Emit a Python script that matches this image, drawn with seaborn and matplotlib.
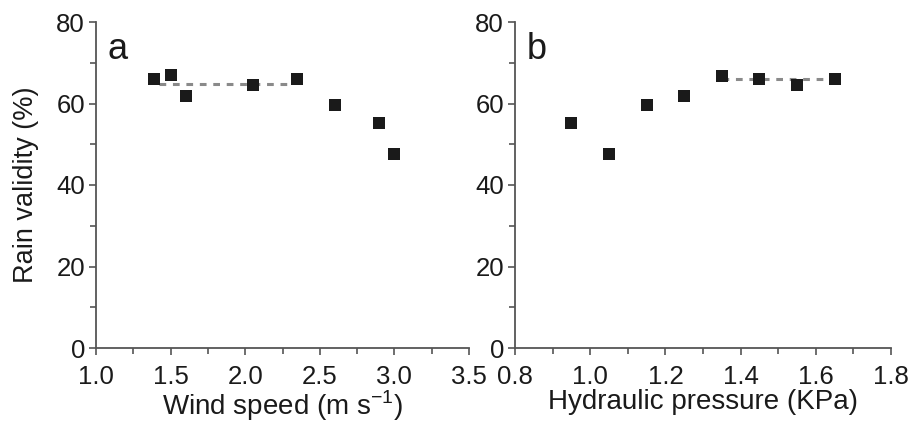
import matplotlib
matplotlib.use("Agg")
import matplotlib.pyplot as plt
import seaborn as sns
import pandas as pd
from matplotlib.ticker import MultipleLocator

sns.set_theme(style="ticks")
plt.rcParams['font.family'] = ['Liberation Sans', 'DejaVu Sans']

wind_speed = [1.39, 1.50, 1.60, 2.05, 2.35, 2.60, 2.90, 3.00]
validity_a = [66.0, 67.0, 61.8, 64.5, 66.0, 59.6, 55.3, 47.5]
fit_a_x = [1.42, 2.30]
fit_a_y = [64.8, 64.8]

pressure = [0.95, 1.05, 1.15, 1.25, 1.35, 1.45, 1.55, 1.65]
validity_b = [55.3, 47.5, 59.6, 61.8, 66.7, 66.0, 64.5, 66.0]
fit_b_x = [1.35, 1.65]
fit_b_y = [66.1, 66.1]

df_a = pd.DataFrame({"x": wind_speed, "y": validity_a})
df_b = pd.DataFrame({"x": pressure, "y": validity_b})
fa = pd.DataFrame({"x": fit_a_x, "y": fit_a_y})
fb = pd.DataFrame({"x": fit_b_x, "y": fit_b_y})

fig = plt.figure(figsize=(9.13, 4.34), dpi=100)
W, H = 913, 434
ax1 = fig.add_axes([96 / W, 1 - 348 / H, (469 - 96) / W, (348 - 22) / H])
ax2 = fig.add_axes([515 / W, 1 - 348 / H, (891 - 515) / W, (348 - 22) / H])

axis_col = "#555555"
txt_col = "#1a1a1a"
for ax, df, fit, letter in [(ax1, df_a, fa, "a"), (ax2, df_b, fb, "b")]:
    sns.lineplot(data=fit, x="x", y="y", ax=ax, color="#8a8a8a", lw=2.2,
                 linestyle=(0, (2.2, 2.2)), zorder=1)
    sns.scatterplot(data=df, x="x", y="y", ax=ax, marker="s", s=72,
                    color=txt_col, edgecolor=txt_col, linewidth=0, zorder=3)
    ax.set_ylim(0, 80)
    ax.yaxis.set_major_locator(MultipleLocator(20))
    ax.yaxis.set_minor_locator(MultipleLocator(10))
    for s in ["top", "right"]:
        ax.spines[s].set_visible(False)
    for s in ["left", "bottom"]:
        ax.spines[s].set_color(axis_col)
        ax.spines[s].set_linewidth(1.3)
    ax.tick_params(which="both", direction="out", color=axis_col, width=1.2,
                   labelsize=18.5, labelcolor=txt_col)
    ax.tick_params(axis="x", which="both", pad=7)
    ax.tick_params(axis="y", which="both", pad=3)
    ax.tick_params(which="major", length=5)
    ax.tick_params(which="minor", length=4)
    ax.text(0.03, 0.97, letter, transform=ax.transAxes, fontsize=26,
            va="top", ha="left", color=txt_col)

ax1.set_xlim(1.0, 3.5)
ax1.xaxis.set_major_locator(MultipleLocator(0.5))
ax1.xaxis.set_minor_locator(MultipleLocator(0.25))
ax1.xaxis.set_major_formatter(matplotlib.ticker.FormatStrFormatter("%.1f"))
ax1.set_xlabel("Wind speed (m s$^{\\mathregular{-1}}$)", fontsize=20, color=txt_col, labelpad=0)
ax1.set_ylabel("Rain validity (%)", fontsize=19.5, color=txt_col, labelpad=12)

ax2.set_xlim(0.8, 1.8)
ax2.xaxis.set_major_locator(MultipleLocator(0.2))
ax2.xaxis.set_minor_locator(MultipleLocator(0.1))
ax2.xaxis.set_major_formatter(matplotlib.ticker.FormatStrFormatter("%.1f"))
ax2.set_xlabel("Hydraulic pressure (KPa)", fontsize=20, color=txt_col, labelpad=0)
ax2.set_ylabel("")

fig.savefig("out.png", dpi=100, facecolor="white")
